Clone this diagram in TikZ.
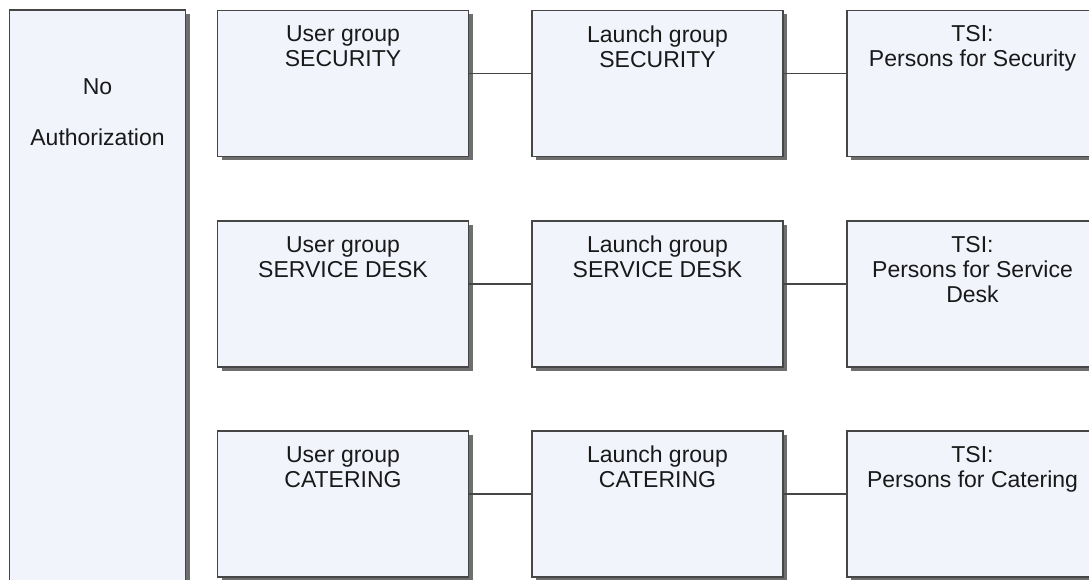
\documentclass[tikz,border=0pt]{standalone}
\usepackage{fontspec}
\setmainfont{Liberation Sans}
\usetikzlibrary{shadows}
\definecolor{boxfill}{RGB}{242,244,252}
\definecolor{boxline}{RGB}{70,70,70}
\definecolor{shade}{RGB}{110,110,110}
\definecolor{ink}{RGB}{25,25,25}
\tikzset{
  card/.style={draw=boxline, line width=1.8pt, fill=boxfill,
    minimum width=251pt, minimum height=146pt, inner sep=0pt, outer sep=0pt,
    drop shadow={shadow xshift=4pt, shadow yshift=-4pt, fill=shade, opacity=1}},
  cardtext/.style={anchor=north, align=center, text=ink,
    font=\fontsize{23}{25}\selectfont, inner sep=0pt},
  link/.style={draw=boxline, line width=1.5pt}
}
\begin{document}
\begin{tikzpicture}[x=1pt, y=-1pt]
  \useasboundingbox (0,0) rectangle (1089,580);
  \fill[white] (0,0) rectangle (1089,580);
  \clip (0,0) rectangle (1089,580);

  % column on the left, running past the lower edge
  \node[card, minimum width=176pt, minimum height=600pt] (noauth) at (97.5,310) {};
  \node[cardtext] (noauthtext) at ([yshift=-68pt]noauth.north) {No\\[26pt]Authorization};

  % three rows: user group -> launch group -> persons
  \foreach \r/\y/\grp/\who in {
      1/83.5/SECURITY/{Persons for Security},
      2/294/SERVICE DESK/{Persons for Service\\Desk},
      3/504/CATERING/{Persons for Catering}} {
    \node[card] (u\r) at (343,\y) {};
    \node[card] (l\r) at (657.5,\y) {};
    \node[card] (t\r) at (972.5,\y) {};
    \node[cardtext] (u\r text) at ([yshift=-15pt]u\r.north) {User group\\\grp};
    \node[cardtext] (l\r text) at ([yshift=-15pt]l\r.north) {Launch group\\\grp};
    \node[cardtext] (t\r text) at ([yshift=-15pt]t\r.north) {TSI:\\\who};
    \draw[link] ([yshift=-63pt]u\r.north east) -- ([yshift=-63pt]l\r.north west);
    \draw[link] ([yshift=-63pt]l\r.north east) -- ([yshift=-63pt]t\r.north west);
  }
\end{tikzpicture}
\end{document}
